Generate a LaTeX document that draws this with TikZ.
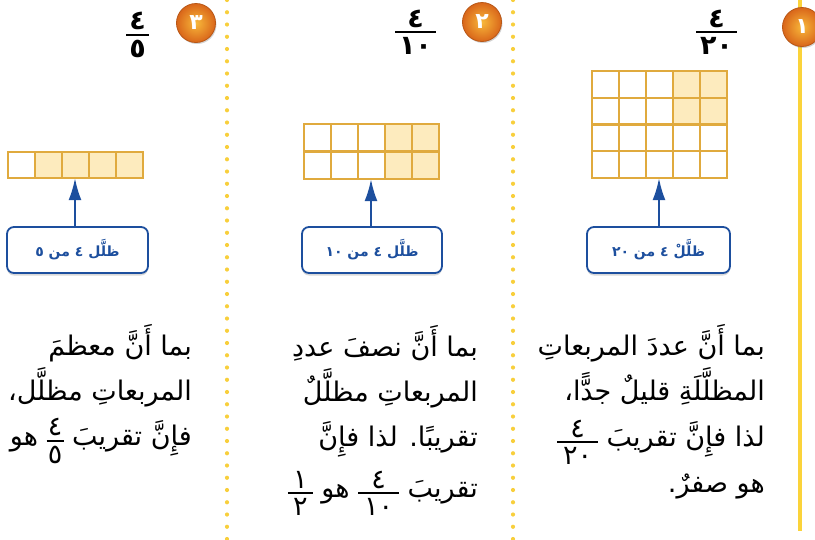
\documentclass[tikz,border=0pt]{standalone}
\usepackage{fontspec}
\newfontfamily\arabicfont[Script=Arabic]{DejaVu Sans}
\TeXXeTstate=1
\usetikzlibrary{arrows.meta,shadows,positioning}
\definecolor{gridgold}{HTML}{E0AA3E}
\definecolor{shadecell}{HTML}{FDEBBE}
\definecolor{boxblue}{HTML}{1D4F9E}
\definecolor{railgold}{HTML}{FBD33A}
\definecolor{dotgold}{HTML}{F8CF3C}
\definecolor{badgein}{HTML}{F8B83A}
\definecolor{badgeout}{HTML}{D9661A}
% stacked fraction: [raise]{bar width}{numerator}{denominator}
\newcommand\afrac[4][0pt]{\raisebox{#1}{\vbox{\hbox to #2{\hss#3\hss}\kern3.5pt
  \hrule height 2.5pt\kern3.5pt\hbox to #2{\hss#4\hss}}}}

\tikzset{
  cell/.style={draw=gridgold, line width=2.4pt},
  gridframe/.style={inner sep=0pt, draw=none},
  hint/.style={draw=boxblue, line width=1.8pt, rounded corners=7pt, fill=white,
    minimum height=46pt, inner sep=0pt, text=boxblue,
    font=\arabicfont\fontsize{14}{16}\selectfont\bfseries,
    drop shadow={shadow xshift=0pt, shadow yshift=-2.5pt, opacity=.3}},
  pointer/.style={draw=boxblue, line width=2pt, -{Latex[length=22pt,width=13pt]}},
  badge/.style={circle, minimum size=39pt, inner sep=0pt, shading=radial,
    inner color=badgein, outer color=badgeout, draw=badgeout!85!black, line width=.8pt,
    text=white, font=\arabicfont\fontsize{22}{22}\selectfont\bfseries,
    drop shadow={shadow xshift=1pt, shadow yshift=-1.5pt, opacity=.35}},
  body/.style={anchor=base east, inner sep=0pt, font=\arabicfont\fontsize{27}{30}\selectfont},
  heading/.style={anchor=base, inner sep=0pt, font=\arabicfont\fontsize{27}{30}\selectfont\bfseries}
}

\begin{document}
\begin{tikzpicture}[x=1pt,y=-1pt]
\useasboundingbox (0,0) rectangle (815,539);
% column rules
\draw[railgold, line width=4pt] (799.5,0) -- (799.5,531);
\foreach \yy in {0,12.25,...,539} {
  \fill[dotgold] (513,\yy) circle (2.1pt);
  \fill[dotgold] (227,\yy) circle (2.1pt);
}
\node[badge] (n1) at (802,27) {١};
\node[badge] (n2) at (482,22) {٢};
\node[badge] (n3) at (196,23) {٣};
\node[heading] (f1) at (716.5,54) {\afrac{41pt}{٤}{٢٠}};
\node[heading] (f2) at (415.5,54) {\afrac{41pt}{٤}{١٠}};
\node[heading] (f3) at (137.5,57) {\afrac{23pt}{٤}{٥}};
% grid 1
\fill[shadecell] (673,71) rectangle (727,124.5);
\foreach \i in {0,...,4} \foreach \j in {0,...,3}
  \draw[cell] (592+27*\i,71+26.75*\j) rectangle +(27,26.75);
\node[gridframe, minimum width=135pt, minimum height=107pt] (g1) at (659,124.5) {};
% grid 2
\fill[shadecell] (385,124) rectangle (439,179);
\foreach \i in {0,...,4} \foreach \j in {0,...,1}
  \draw[cell] (304+27*\i,124+27.5*\j) rectangle +(27,27.5);
\node[gridframe, minimum width=135pt, minimum height=55pt] (g2) at (371,151.5) {};
% grid 3
\fill[shadecell] (35,152) rectangle (143,178);
\foreach \i in {0,...,4}
  \draw[cell] (8+27*\i,152) rectangle +(27,26);
\node[gridframe, minimum width=135pt, minimum height=26pt] (g3) at (75,165) {};
\node[hint, minimum width=143pt] (b1) at (658.5,250) {\beginR ظلَّلْ ٤ من ٢٠\endR};
\node[hint, minimum width=140pt] (b2) at (372,250) {\beginR ظلَّل ٤ من ١٠\endR};
\node[hint, minimum width=141pt] (b3) at (77.5,250) {\beginR ظلَّل ٤ من ٥\endR};
\draw[pointer] (g1.south |- b1.north) -- (g1.south);
\draw[pointer] (g2.south |- b2.north) -- (g2.south);
\draw[pointer] (g3.south |- b3.north) -- (g3.south);
% text
\node[body] (t11) at (765,355) {\beginR بما أَنَّ عددَ المربعاتِ\endR};
\node[body] (t12) at (765,400) {\beginR المظلَّلَةِ قليلٌ جدًّا،\endR};
\node[body] (t13) at (765,446) {\beginR لذا فإِنَّ تقريبَ \afrac[-18pt]{41pt}{٤}{٢٠}\endR};
\node[body] (t14) at (765,492) {\beginR هو صفرٌ.\endR};
\node[body] (t21) at (478,356) {\beginR بما أَنَّ نصفَ عددِ\endR};
\node[body] (t22) at (478,401) {\beginR المربعاتِ مظلَّلٌ\endR};
\node[body] (t23) at (478,446) {\beginR تقريبًا. لذا فإِنَّ\endR};
\node[body] (t24) at (478,497) {\beginR تقريبَ \afrac[-18pt]{41pt}{٤}{١٠} هو \afrac[-18pt]{25pt}{١}{٢}\endR};
\begin{scope}
\clip (0,0) rectangle (815,539);
\node[body] (t31) at (192,355) {\beginR بما أَنَّ معظمَ\endR};
\node[body] (t32) at (192,400) {\beginR المربعاتِ مظلَّل، لذا\endR};
\node[body] (t33) at (192,445) {\beginR فإِنَّ تقريبَ \afrac[-18pt]{17pt}{٤}{٥} هو\endR};
\end{scope}
\end{tikzpicture}
\end{document}
